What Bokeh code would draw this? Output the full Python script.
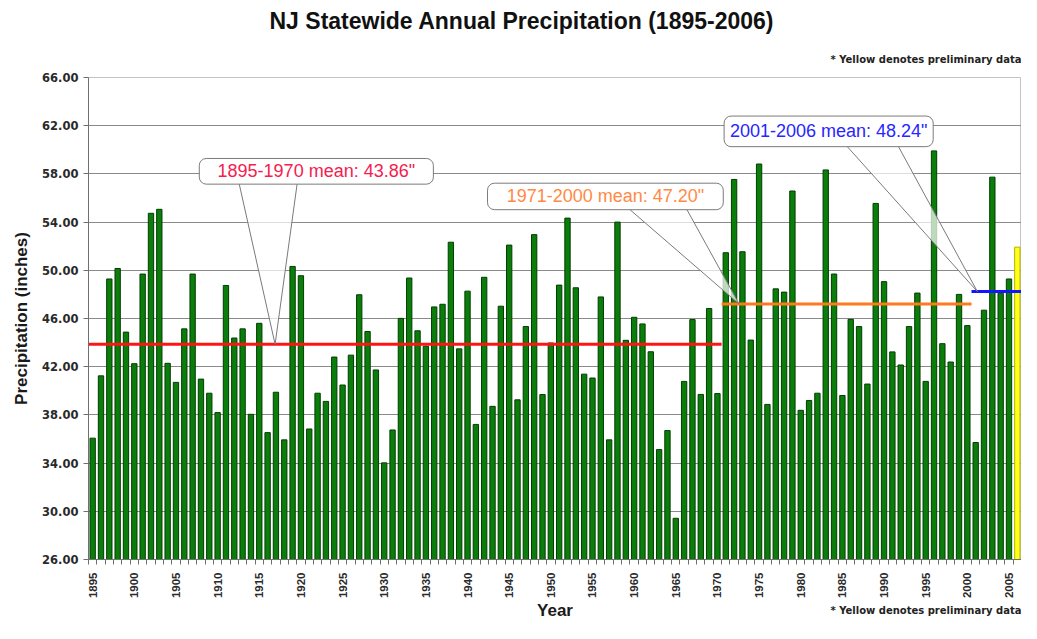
import math
from bokeh.plotting import figure
from bokeh.models import Range1d, FixedTicker, NumeralTickFormatter, Title
from bokeh.core.properties import value
from bokeh.embed import file_html
from bokeh.resources import INLINE

# ---------------- data ----------------
years = list(range(1895, 2007))
precip = [
    36.07, 41.24, 49.28, 50.15, 44.87, 42.25, 49.69, 54.73, 55.06, 42.28,   # 1895-1904
    40.70, 45.14, 49.69, 40.97, 39.80, 38.19, 48.74, 44.38, 45.14, 38.05,   # 1905-1914
    45.60, 36.53, 39.88, 35.93, 50.32, 49.55, 36.83, 39.80, 39.12, 42.80,   # 1915-1924
    40.48, 42.96, 47.97, 44.92, 41.73, 34.02, 36.75, 46.01, 49.36, 44.98,   # 1925-1934
    43.70, 46.96, 47.18, 52.33, 43.48, 48.27, 37.21, 49.42, 38.71, 47.02,   # 1935-1944
    52.09, 39.25, 45.33, 52.96, 39.69, 43.97, 48.77, 54.33, 48.55, 41.38,   # 1945-1954
    41.06, 47.79, 35.93, 54.00, 44.19, 46.10, 45.55, 43.24, 35.12, 36.70,   # 1955-1964
    29.42, 40.78, 45.91, 39.70, 46.83, 39.77, 51.46, 57.54, 51.54, 44.21,   # 1965-1974
    58.82, 38.87, 48.46, 48.19, 56.58, 38.38, 39.20, 39.80, 58.33, 49.69,   # 1975-1984
    39.61, 45.93, 45.33, 40.56, 55.55, 49.06, 43.23, 42.14, 45.33, 48.11,   # 1985-1994
    40.78, 59.91, 43.91, 42.39, 48.00, 45.41, 35.71, 46.69, 57.73, 48.10,   # 1995-2004
    49.28, 51.92,                                                           # 2005-2006
]
preliminary_years = [2006]

mean_periods = ["1895-1970", "1971-2000", "2001-2006"]
mean_start = [1895, 1971, 2001]
mean_end = [1970, 2000, 2006]
mean_values = [43.86, 47.20, 48.24]

y_ticks = [26, 30, 34, 38, 42, 46, 50, 54, 58, 62, 66]
label_years = years[::5]

title_text = "NJ Statewide Annual Precipitation (1895-2006)"
note_text = "* Yellow denotes preliminary data"

# ---------------- styles ----------------
GREEN = "#0b7d0b"
GREEN_EDGE = "#033d03"
YELLOW = "#ffff1a"
YELLOW_EDGE = "#b3b300"
line_colors = ["#ff1414", "#ff7a1f", "#1414ff"]
text_colors = ["#f5204f", "#ff8a45", "#2626ff"]
FONT = "Liberation Sans"

p = figure(width=1021, height=623,
           x_range=Range1d(1894.5, 2006.5), y_range=Range1d(26, 66),
           output_backend="svg", toolbar_location=None,
           min_border_left=88, min_border_right=0,
           min_border_top=76, min_border_bottom=60)
p.background_fill_color = "white"
p.border_fill_color = "white"
p.outline_line_color = "#c4c4c4"

# titles
p.title.text = title_text
p.title.align = "left"
p.title.offset = 181
p.title.standoff = 10
p.title.text_font = FONT
p.title.text_font_size = "23px"
p.title.text_font_style = "bold"
p.title.text_color = "#111111"
p.add_layout(Title(text=note_text, align="right", standoff=26,
                   text_font="DejaVu Sans", text_font_style="bold",
                   text_font_size="10px", text_color="#222222"), "above")
p.add_layout(Title(text=note_text, align="right", standoff=-38, vertical_align="top",
                   text_font="DejaVu Sans", text_font_style="bold",
                   text_font_size="10px", text_color="#222222"), "below")

# grid
p.xgrid.visible = False
p.ygrid.grid_line_color = "#8a8a8a"
p.ygrid.grid_line_width = 1.2

# y axis
p.yaxis.ticker = FixedTicker(ticks=y_ticks)
p.yaxis.formatter = NumeralTickFormatter(format="0.00")
p.yaxis.axis_label = "Precipitation (inches)"
p.yaxis.axis_label_text_font = FONT
p.yaxis.axis_label_text_font_style = "bold"
p.yaxis.axis_label_text_font_size = "17px"
p.yaxis.axis_label_text_color = "#1a1a1a"
p.yaxis.axis_label_standoff = 8
p.yaxis.major_label_text_font = "DejaVu Sans"
p.yaxis.major_label_text_font_style = "bold"
p.yaxis.major_label_text_font_size = "11.5px"
p.yaxis.major_label_text_color = "#2a2a2a"
p.yaxis.major_label_standoff = 5
p.yaxis.major_tick_out = 5
p.yaxis.major_tick_in = 0
p.yaxis.minor_tick_line_color = None
p.yaxis.axis_line_color = "#707070"
p.yaxis.major_tick_line_color = "#707070"

# x axis
minor = [y - 0.5 for y in years] + [years[-1] + 0.5]
p.xaxis.ticker = FixedTicker(ticks=label_years, minor_ticks=minor)
p.xaxis.major_label_orientation = math.pi / 2
p.xaxis.major_label_text_font = FONT
p.xaxis.major_label_text_font_style = "bold"
p.xaxis.major_label_text_font_size = "11.5px"
p.xaxis.major_label_text_color = "#2a2a2a"
p.xaxis.major_label_standoff = 8
p.xaxis.major_tick_line_color = None
p.xaxis.major_tick_out = 0
p.xaxis.major_tick_in = 0
p.xaxis.minor_tick_out = 5
p.xaxis.minor_tick_in = 0
p.xaxis.minor_tick_line_color = "#707070"
p.xaxis.axis_line_color = "#707070"
p.xaxis.axis_label = "Year"
p.xaxis.axis_label_text_font = FONT
p.xaxis.axis_label_text_font_style = "bold"
p.xaxis.axis_label_text_font_size = "17px"
p.xaxis.axis_label_text_color = "#1a1a1a"
p.xaxis.axis_label_standoff = 0

# bars
fills = [YELLOW if y in preliminary_years else GREEN for y in years]
edges = [YELLOW_EDGE if y in preliminary_years else GREEN_EDGE for y in years]
p.vbar(x=years, top=precip, bottom=26, width=0.64,
       fill_color=fills, line_color=edges, line_width=1)

# mean lines
p.segment(x0=[s - 0.5 for s in mean_start], x1=[e + 0.5 for e in mean_end],
          y0=mean_values, y1=mean_values, line_color=line_colors, line_width=3)

# callouts (annotation layout, in data units)
box_left = [1907.8, 1942.4, 1970.8]
box_right = [1935.9, 1970.7, 1995.9]
box_bottom = [57.15, 55.03, 60.26]
box_top = [59.28, 57.23, 62.80]
tail_x0 = [1912.5, 1959.0, 1985.2]
tail_x1 = [1919.6, 1966.1, 1991.5]
tip_x = [1916.9, 1972.6, 2001.2]

p.patches(xs=[[a, t, b] for a, t, b in zip(tail_x0, tip_x, tail_x1)],
          ys=[[bb + 0.3, m, bb + 0.3] for bb, m in zip(box_bottom, mean_values)],
          fill_color="white", fill_alpha=0.72, line_color="#7a7a7a", line_width=1)
p.quad(left=box_left, right=box_right, bottom=box_bottom, top=box_top,
       fill_color="white", line_color="#7a7a7a", line_width=1, border_radius=7)
labels = [f'{per} mean: {m:.2f}"' for per, m in zip(mean_periods, mean_values)]
p.text(x=[(l + r) / 2 for l, r in zip(box_left, box_right)],
       y=[(b + t) / 2 for b, t in zip(box_bottom, box_top)],
       text=labels, text_color=text_colors, text_align="center",
       text_baseline="middle", text_font=value(FONT), text_font_size="18px")

open("out.html", "w").write(file_html(p, INLINE))
